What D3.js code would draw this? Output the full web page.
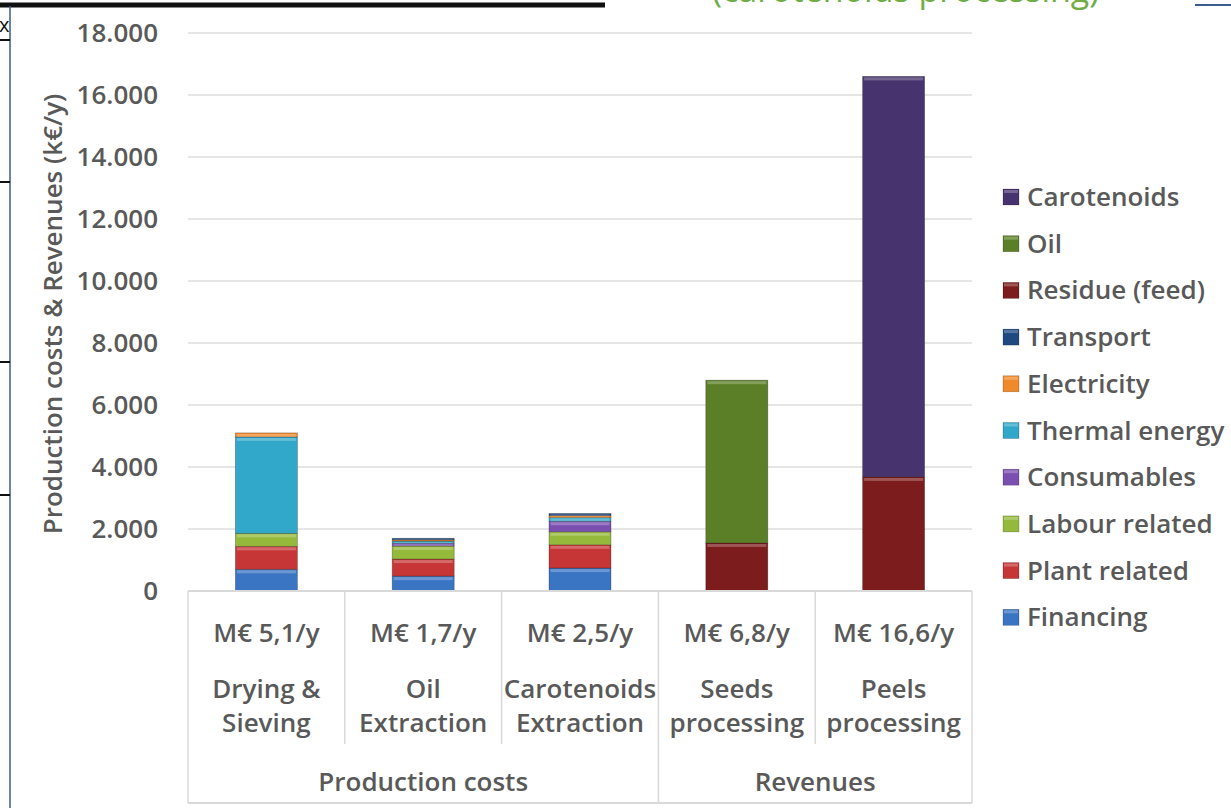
<!DOCTYPE html>
<meta charset="utf-8">
<script src="https://d3js.org/d3.v7.min.js"></script>
<style>
	body{
		margin:0;
		background:#fff;
		font-family: 'Open Sans', sans-serif;
	}
</style>
<div id="chart"></div>
<script>

// categories and their group
var categories = ["Drying & Sieving","Oil Extraction","Carotenoids Extraction","Seeds processing","Peels processing"]
var catLines = [["Drying &","Sieving"],["Oil","Extraction"],["Carotenoids","Extraction"],["Seeds","processing"],["Peels","processing"]]
var totalLabels = ["M€ 5,1/y","M€ 1,7/y","M€ 2,5/y","M€ 6,8/y","M€ 16,6/y"]
var groups = ["Production costs","Revenues"]
var groupSpan = [[0,3],[3,5]]

// stacked series, bottom to top (k€/y)
var seriesNames = ["Financing","Plant related","Labour related","Consumables","Thermal energy","Electricity","Transport","Residue (feed)","Oil","Carotenoids"]
var financing     = [700, 480, 740, 0, 0]
var plantRelated  = [740, 550, 750, 0, 0]
var labourRelated = [420, 420, 420, 0, 0]
var consumables   = [0, 90, 340, 0, 0]
var thermalEnergy = [3110, 70, 120, 0, 0]
var electricity   = [130, 40, 60, 0, 0]
var transport     = [0, 50, 70, 0, 0]
var residue       = [0, 0, 0, 1550, 3680]
var oil           = [0, 0, 0, 5250, 0]
var carotenoids   = [0, 0, 0, 0, 12920]
var colors = ["#3a75c4","#c73636","#95b93a","#7a4fb0","#31a8c9","#f0892a","#1f4a80","#7d1c1c","#5b7f26","#47336e"]

var yTicks = [0,2000,4000,6000,8000,10000,12000,14000,16000,18000]
var tickLabels = ["0","2.000","4.000","6.000","8.000","10.000","12.000","14.000","16.000","18.000"]

var allSeries = [financing,plantRelated,labourRelated,consumables,thermalEnergy,electricity,transport,residue,oil,carotenoids]

var w = 1231
var h = 808
var plotLeft = 188
var plotRight = 972
var plotTop = 33
var plotBottom = 591
var textColor = "#595959"

var rows = categories.map(function(c,i){
	var r = {cat:c}
	seriesNames.forEach(function(s,j){ r[s] = allSeries[j][i] })
	return r
})

var stack = d3.stack().keys(seriesNames)(rows)

var xScale = d3.scaleBand().domain(categories).range([plotLeft,plotRight]).paddingInner(0).paddingOuter(0)
var yScale = d3.scaleLinear().domain([0,18000]).range([plotBottom,plotTop])
var cScale = d3.scaleOrdinal().domain(seriesNames).range(colors)

var svg = d3.select("#chart").append("svg").attr("width",w).attr("height",h)

// frame bits from the cropped screenshot
svg.append("line").attr("x1",0).attr("x2",605).attr("y1",5).attr("y2",5).attr("stroke","#111").attr("stroke-width",5)
svg.append("line").attr("x1",10).attr("x2",10).attr("y1",6).attr("y2",h).attr("stroke","#3b5b8c").attr("stroke-width",1.5)
svg.append("line").attr("x1",1195).attr("x2",w).attr("y1",5).attr("y2",5).attr("stroke","#3b5b8c").attr("stroke-width",2)
;[40,182,362,495].forEach(function(y){
	svg.append("line").attr("x1",0).attr("x2",10).attr("y1",y).attr("y2",y).attr("stroke","#111").attr("stroke-width",2)
})
svg.append("text").text("x").attr("x",-1).attr("y",32).style("font-size","20px").attr("fill","#111")
svg.append("text").text("(carotenoids processing)").attr("x",712).attr("y",2)
	.style("font-size","34px").attr("fill","#70ad47")

// gridlines
svg.append("g").selectAll("line").data(yTicks.slice(1)).join("line")
	.attr("x1",plotLeft).attr("x2",plotRight)
	.attr("y1",function(d){return yScale(d)}).attr("y2",function(d){return yScale(d)})
	.attr("stroke","#e6e6e6").attr("stroke-width",2)

// tick labels
svg.append("g").selectAll("text").data(yTicks).join("text")
	.text(function(d,i){return tickLabels[i]})
	.attr("x",158).attr("y",function(d){return yScale(d)+9})
	.attr("text-anchor","end")
	.style("font-size","26px").style("font-weight","600")
	.attr("fill",textColor)

svg.append("text").text("Production costs & Revenues (k€/y)")
	.attr("transform","translate(62,"+314+") rotate(-90)")
	.attr("text-anchor","middle")
	.style("font-size","26px").style("font-weight","600")
	.attr("fill",textColor)

// bars
var barW = 62
function segs(d){return d.filter(function(v){return v[1]-v[0]>0})}
function barX(d){return xScale(d.data.cat)+xScale.bandwidth()/2-barW/2}
var layer = svg.append("g").selectAll("g").data(stack).join("g")
layer.selectAll("rect.seg").data(segs).join("rect").attr("class","seg")
	.attr("x",barX)
	.attr("width",barW)
	.attr("y",function(d){return yScale(d[1])})
	.attr("height",function(d){return yScale(d[0])-yScale(d[1])})
	.attr("fill",function(d){return cScale(d3.select(this.parentNode).datum().key)})
	.attr("stroke","rgba(0,0,0,0.3)").attr("stroke-width",.8)
// bevel highlight at the top of each segment
layer.selectAll("rect.hi").data(segs).join("rect").attr("class","hi")
	.attr("x",function(d){return barX(d)+1.5})
	.attr("width",barW-3)
	.attr("y",function(d){return yScale(d[1])+1})
	.attr("height",function(d){return Math.min(3,yScale(d[0])-yScale(d[1])-1)})
	.attr("fill","#fff").attr("opacity",.25)

// category axis
var axisColor = "#d9d9d9"
svg.append("line").attr("x1",plotLeft).attr("x2",plotRight).attr("y1",plotBottom).attr("y2",plotBottom)
	.attr("stroke",axisColor).attr("stroke-width",2)
svg.append("line").attr("x1",plotLeft).attr("x2",plotRight).attr("y1",803).attr("y2",803)
	.attr("stroke",axisColor).attr("stroke-width",2)
categories.forEach(function(c,i){
	var x0 = xScale(c)
	var isGroupEdge = (i==0 || i==3)
	svg.append("line").attr("x1",x0).attr("x2",x0).attr("y1",plotBottom).attr("y2",isGroupEdge?803:744)
		.attr("stroke",axisColor).attr("stroke-width",1.5)
})
svg.append("line").attr("x1",plotRight).attr("x2",plotRight).attr("y1",plotBottom).attr("y2",803)
	.attr("stroke",axisColor).attr("stroke-width",1.5)

var labelG = svg.append("g").attr("fill",textColor).style("font-weight","600").attr("text-anchor","middle")
categories.forEach(function(c,i){
	var cx = xScale(c)+xScale.bandwidth()/2
	labelG.append("text").text(totalLabels[i]).attr("x",cx).attr("y",642).style("font-size","26px")
	labelG.append("text").text(catLines[i][0]).attr("x",cx).attr("y",698).style("font-size","26px")
	labelG.append("text").text(catLines[i][1]).attr("x",cx).attr("y",732).style("font-size","26px")
})
groups.forEach(function(g,i){
	var a = xScale(categories[groupSpan[i][0]])
	var b = groupSpan[i][1]<categories.length ? xScale(categories[groupSpan[i][1]]) : plotRight
	labelG.append("text").text(g).attr("x",(a+b)/2).attr("y",791).style("font-size","26px")
})

// legend, top to bottom reversed order
var legendNames = seriesNames.slice().reverse()
var leg = svg.append("g").selectAll("g").data(legendNames).join("g")
	.attr("transform",function(d,i){return "translate(1003,"+(197+i*46.7)+")"})
leg.append("rect").attr("x",0).attr("y",-8).attr("width",16).attr("height",16)
	.attr("fill",function(d){return cScale(d)})
	.attr("stroke","rgba(0,0,0,0.3)").attr("stroke-width",.6)
leg.append("rect").attr("x",1).attr("y",-7).attr("width",14).attr("height",3)
	.attr("fill","#fff").attr("opacity",.25)
leg.append("text").text(function(d){return d}).attr("x",24).attr("y",9)
	.style("font-size","26px").style("font-weight","600").attr("fill",textColor)

</script>
